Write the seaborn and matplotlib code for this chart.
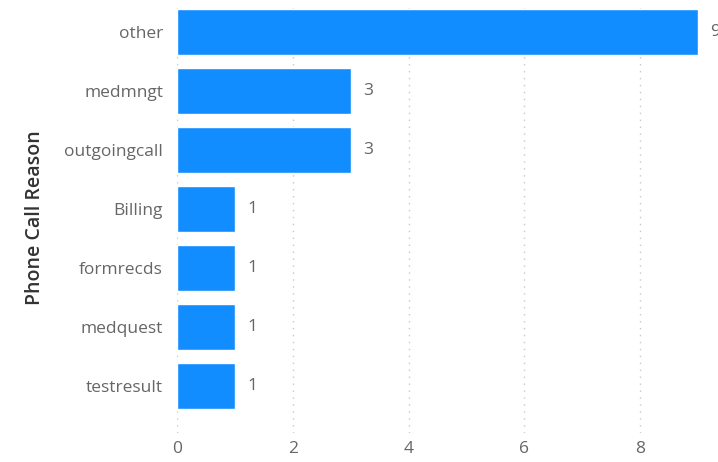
import matplotlib
matplotlib.use("Agg")
import matplotlib.pyplot as plt
import seaborn as sns
import pandas as pd

categories = ["other", "medmngt", "outgoingcall", "Billing", "formrecds", "medquest", "testresult"]
counts = [9, 3, 3, 1, 1, 1, 1]
x_ticks = [0, 2, 4, 6, 8]

df = pd.DataFrame({"reason": categories, "count": counts})

sns.set_theme(style="white")
plt.rcParams["font.family"] = ["Open Sans", "DejaVu Sans"]

fig = plt.figure(figsize=(7.18, 4.62), dpi=100)
ax = fig.add_axes([177 / 718, 1 - 433 / 462, 1 - 177 / 718, (433 - 2.5) / 462])

sns.barplot(data=df, x="count", y="reason", order=categories, color="#118DFF",
            saturation=1, width=0.78, ax=ax)

px_per_unit = (640 - 177) / 8.0
ax.set_xlim(0, (718 - 177) / px_per_unit)
ax.set_ylim(6.8, -0.5)
ax.set_xticks(x_ticks)
ax.set_xticklabels([str(t) for t in x_ticks])
ax.xaxis.grid(True, linestyle=(0, (1, 4)), color="#c8c8c8", linewidth=1)
ax.yaxis.grid(False)
for s in ax.spines.values():
    s.set_visible(False)
ax.tick_params(axis="both", length=0, labelsize=12.5, colors="#666666")
ax.tick_params(axis="y", pad=10)
ax.tick_params(axis="x", pad=6)
ax.set_xlabel("")
ax.set_ylabel("Phone Call Reason", fontsize=14, fontweight="semibold",
              color="#333333", labelpad=14)

for i, v in enumerate(counts):
    ax.annotate(str(v), xy=(v, i), xytext=(9, 0), textcoords="offset points",
                va="center", ha="left", fontsize=12.5, color="#666666",
                annotation_clip=False)

fig.savefig("out.png", dpi=100)
